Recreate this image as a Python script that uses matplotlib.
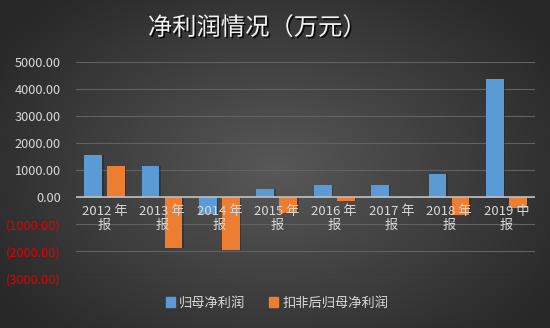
import numpy as np
import matplotlib
matplotlib.use("Agg")
import matplotlib.pyplot as plt
import matplotlib.patheffects as pe
from matplotlib.ticker import FuncFormatter

plt.rcParams['font.family'] = ['Noto Sans CJK SC', 'DejaVu Sans']

categories = ["2012 年\n报", "2013 年\n报", "2014 年\n报", "2015 年\n报",
              "2016 年\n报", "2017 年\n报", "2018 年\n报", "2019 中\n报"]
net_profit = [1550, 1150, -610, 300, 445, 445, 845, 4385]
net_profit_deducted = [1150, -1870, -1945, -580, -150, -20, -645, -400]
series_names = ["归母净利润", "扣非后归母净利润"]
title = "净利润情况（万元）"

blue = "#5B9BD5"
orange = "#ED7D31"
txt = "#D9D9D9"

fig = plt.figure(figsize=(5.5, 3.28), dpi=100)

# radial gradient background
bg = fig.add_axes([0, 0, 1, 1], zorder=-10)
yy, xx = np.mgrid[0:328, 0:550]
r = np.sqrt(((xx - 275) / 330.0) ** 2 + ((yy - 170) / 230.0) ** 2)
r = np.clip(r, 0, 1)
c0 = np.array([0x58, 0x58, 0x58]) / 255.0
c1 = np.array([0x28, 0x28, 0x28]) / 255.0
img = c0[None, None, :] * (1 - r[..., None]) + c1[None, None, :] * r[..., None]
bg.imshow(img, aspect='auto', extent=[0, 1, 0, 1])
bg.axis('off')

ax = fig.add_axes([76 / 550, 1 - 278.3 / 328, (535 - 76) / 550, (278.3 - 62.3) / 328])
ax.patch.set_alpha(0)

x = np.arange(len(categories))
w = 0.31
off = 0.2
for xs, vals, col in ((x - off, net_profit, blue), (x + off, net_profit_deducted, orange)):
    # subtle shadow
    ax.bar(xs + 0.025, vals, w, color="#1a1a1a", alpha=0.35, zorder=2)
    ax.bar(xs, vals, w, color=col, zorder=3)

ax.set_xlim(-0.5, len(categories) - 0.5)
ax.set_ylim(-3000, 5000)
ax.set_yticks(np.arange(-3000, 5001, 1000))


def fmt(v, pos):
    if v < 0:
        return "({:.2f})".format(-v)
    return "{:.2f}".format(v)


ax.yaxis.set_major_formatter(FuncFormatter(fmt))
ax.tick_params(axis='y', length=0, pad=11, labelsize=9.2, labelcolor=txt)
for lab, v in zip(ax.get_yticklabels(), np.arange(-3000, 5001, 1000)):
    if v < 0:
        lab.set_color("#E00000")
ax.set_xticks([])
for s in ax.spines.values():
    s.set_visible(False)
ax.grid(axis='y', color="#626262", linewidth=0.8, zorder=0)
ax.axhline(0, color="#BFBFBF", linewidth=1.2, zorder=4)

for i, c in enumerate(categories):
    ax.text(i, -280, c, ha='center', va='top', fontsize=9.5, color=txt,
            linespacing=1.1, zorder=5)

fig.text(257 / 550, 0.915, title, ha='center', va='center', fontsize=17.5,
         color="#F2F2F2",
         path_effects=[pe.withSimplePatchShadow(offset=(1.2, -1.2), shadow_rgbFace='black', alpha=0.8)])

handles = [plt.Rectangle((0, 0), 1, 1, color=blue), plt.Rectangle((0, 0), 1, 1, color=orange)]
leg = fig.legend(handles, series_names, loc='center', bbox_to_anchor=(277 / 550, 1 - 303 / 328),
                 ncol=2, frameon=False, fontsize=9.5, handlelength=0.7, handleheight=0.7,
                 handletextpad=0.3, columnspacing=1.8)
for t in leg.get_texts():
    t.set_color(txt)

fig.savefig("out.png", dpi=100)
